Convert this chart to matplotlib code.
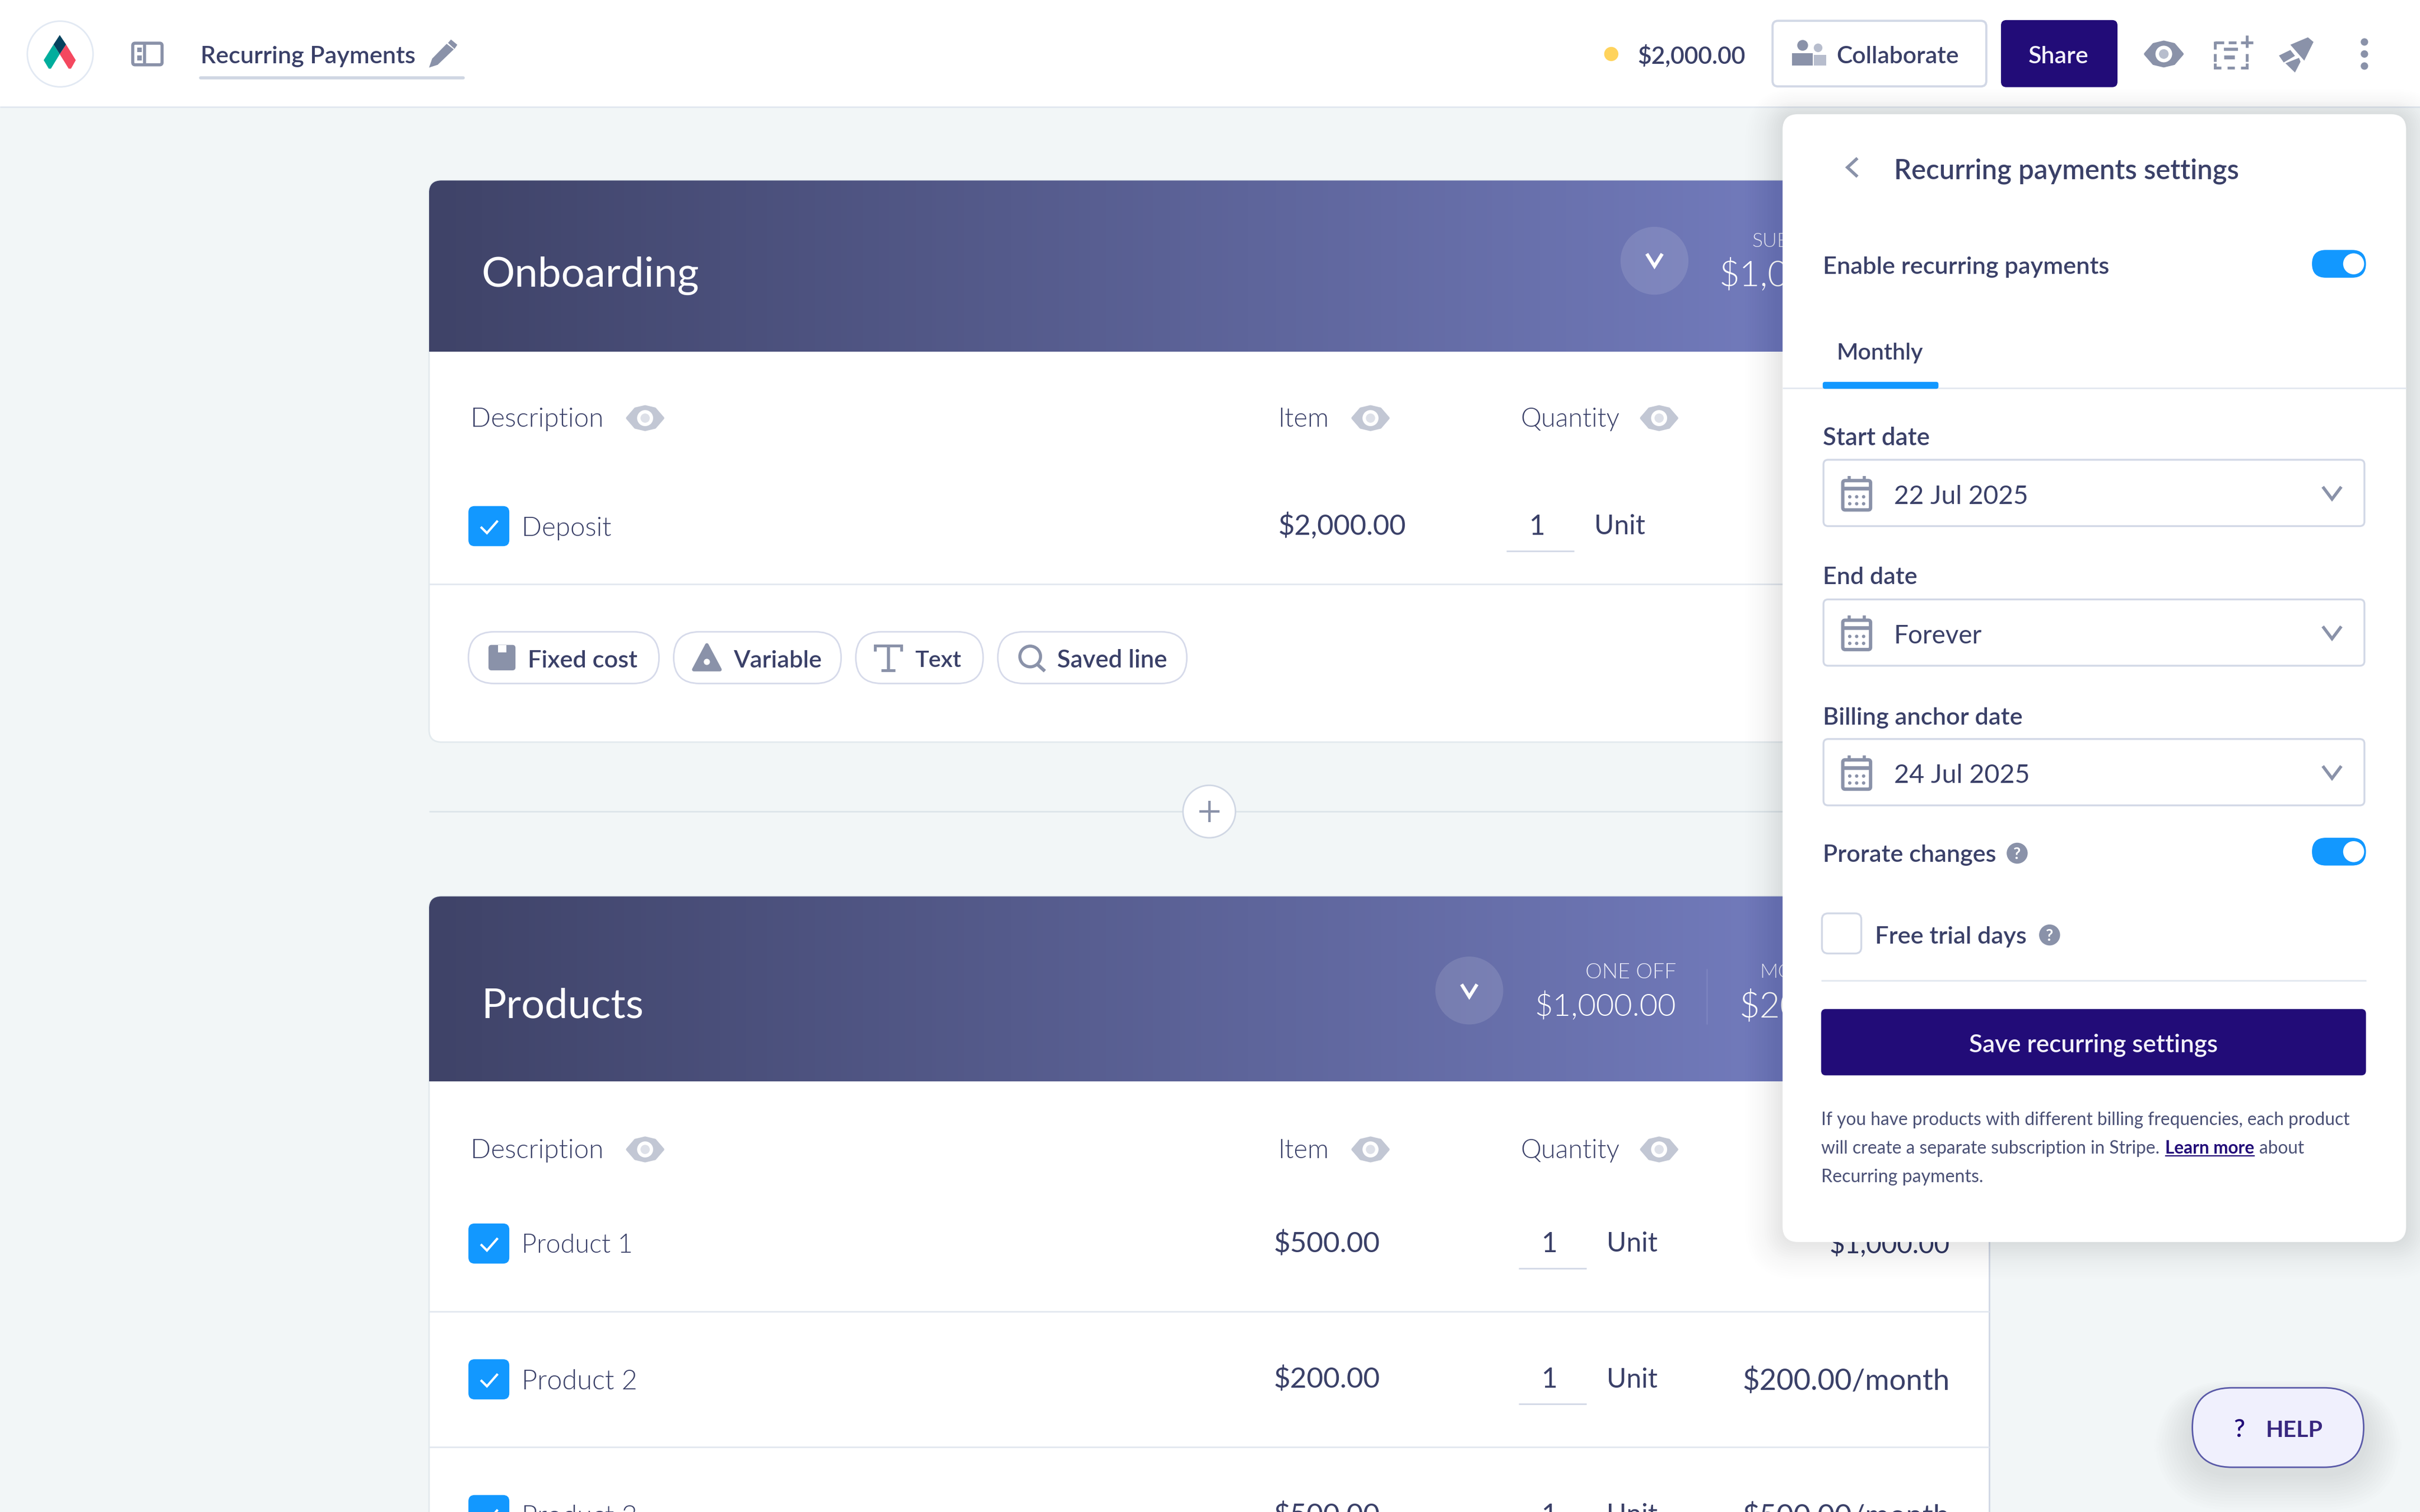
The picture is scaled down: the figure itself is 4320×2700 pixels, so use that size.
import numpy as np
import matplotlib
matplotlib.use("Agg")
import matplotlib.pyplot as plt
from matplotlib.patches import FancyBboxPatch, Circle, Polygon, Rectangle
from matplotlib.colors import LinearSegmentedColormap

# ---------- content ----------
DOC_TITLE = "Recurring Payments"
TOTAL = "$2,000.00"
COLLAB = "Collaborate"
SHARE = "Share"
PANEL_TITLE = "Recurring payments settings"
ENABLE = "Enable recurring payments"
TAB = "Monthly"
DATE_LABELS = ["Start date", "End date", "Billing anchor date"]
DATE_VALUES = ["22 Jul 2025", "Forever", "24 Jul 2025"]
PRORATE = "Prorate changes"
TRIAL = "Free trial days"
SAVE = "Save recurring settings"
NOTE_LINES = ["If you have products with different billing frequencies, each product",
              "will create a separate subscription in Stripe.", "about", "Recurring payments."]
LEARN = "Learn more"
COLUMNS = ["Description", "Item", "Quantity"]
SECTIONS = ["Onboarding", "Products"]
CHIPS = ["Fixed cost", "Variable", "Text", "Saved line"]
PRODUCTS = ["Product 1", "Product 2", "Product 3"]
PRODUCT_PRICES = ["$500.00", "$200.00", "$500.00"]
PRODUCT_TOTALS = ["$1,000.00", "$200.00/month", "$500.00/month"]

DARK = "#3A4068"; GREY = "#8A92A9"; LINE = "#E2E8F0"; BORDER = "#D2D8E6"
BLUE = "#1298FF"; NAVY = "#220C78"; BG = "#F2F6F7"
FONT = "Lato"
LIGHT = 300
MED = 600

fig = plt.figure(figsize=(14.4, 9), dpi=300)
ax = fig.add_axes([0, 0, 1, 1])
ax.set_xlim(0, 1568); ax.set_ylim(980, 0); ax.axis("off")
fig.patch.set_facecolor(BG)
rend = fig.canvas.get_renderer()
PX = 1568 / (14.4 * 300)   # display unit per real pixel
PT = (4320 / 1568) * 72 / 300  # points per display unit


def T(x, yc, s, w=None, size=15, color=DARK, weight="normal", ha="left", z=5, fam=FONT):
    t = ax.text(x, yc, s, fontsize=size * PT, color=color, weight=weight, ha=ha, va="baseline",
                family=fam, zorder=z)
    if w is not None:
        cur = t.get_window_extent(rend).width * PX
        size = size * w / cur
        t.set_fontsize(size * PT)
    t.set_y(yc + 0.36 * size)
    return t


def RR(x0, y0, x1, y1, r=4, fc="white", ec="none", lw=1.0, z=2, alpha=None):
    p = FancyBboxPatch((x0, y0), x1 - x0, y1 - y0, boxstyle=f"round,pad=0,rounding_size={r}",
                       fc=fc, ec=ec, lw=lw * PT, zorder=z, alpha=alpha, mutation_aspect=1)
    ax.add_patch(p)
    return p


def L(xs, ys, c=LINE, lw=1.0, z=3, cap="butt"):
    ax.plot(xs, ys, color=c, lw=lw * PT, zorder=z, solid_capstyle=cap, solid_joinstyle="miter")


def chevron(cx, cy, w=5.5, h=4, c=GREY, lw=1.8, z=6):
    L([cx - w, cx, cx + w], [cy - h, cy + h, cy - h], c=c, lw=lw, z=z)


def eye(cx, cy, c="#C2C7D4", inner="#DDE0E8", z=5, scale=1.0):
    a = 11.5 * scale; b = 7.5 * scale
    xs = np.array([-a, -a * .55, 0, a * .55, a, a * .55, 0, -a * .55])
    ys = np.array([0, -b * .8, -b, -b * .8, 0, b * .8, b, b * .8])
    ax.add_patch(Polygon(np.c_[cx + xs, cy + ys], fc=c, ec=c, lw=1.2, joinstyle="round", zorder=z))
    ax.add_patch(Circle((cx, cy), 5.2 * scale, fc="white", ec="none", zorder=z + .1))
    ax.add_patch(Circle((cx, cy), 3.0 * scale, fc=inner, ec="none", zorder=z + .2))


def checkbox(x, y):
    RR(x, y, x + 26.5, y + 26, r=4, fc=BLUE, z=4)
    L([x + 8, x + 12, x + 19], [y + 13.5, y + 17.5, y + 9.5], c="white", lw=1.5, z=5)


def calendar(cx, cy, z=6):
    RR(cx - 9, cy - 9, cx + 9, cy + 10, r=1.5, fc="white", ec=GREY, lw=2.2, z=z)
    L([cx - 9, cx + 9], [cy - 4, cy - 4], c=GREY, lw=2.4, z=z)
    L([cx - 5, cx - 5], [cy - 12, cy - 8], c=GREY, lw=2, z=z)
    L([cx + 5, cx + 5], [cy - 12, cy - 8], c=GREY, lw=2, z=z)
    for dx in (-4.5, 0, 4.5):
        for dy in (1.5, 6):
            ax.add_patch(Circle((cx + dx, cy + dy), 1.1, fc=GREY, ec="none", zorder=z + .1))


def toggle(y0):
    RR(1498, y0, 1533, y0 + 18, r=9, fc=BLUE, z=21)
    ax.add_patch(Circle((1525, y0 + 9), 6.8, fc="white", ec="none", zorder=22))


def qmark(cx, cy):
    ax.add_patch(Circle((cx, cy), 6.8, fc=GREY, ec="none", zorder=21))
    T(cx, cy, "?", size=10.5, color="white", ha="center", z=22, weight="bold")


# ---------- top bar ----------
ax.add_patch(Rectangle((0, 0), 1568, 69, fc="white", ec="none", zorder=1))
L([0, 1568], [69.3, 69.3], c=LINE, lw=1, z=1.5)
ax.add_patch(Circle((39, 35), 21.3, fc="white", ec="#E2E9F3", lw=1.0 * PT, zorder=2))
ax.add_patch(Polygon([(34.7, 28.8), (38.7, 35.1), (33.0, 44.5), (31.6, 44.5), (28.3, 39.0)], fc="#00AE9D", ec="none", zorder=3))
ax.add_patch(Polygon([(42.8, 28.8), (49.1, 39.0), (46.0, 44.5), (44.5, 44.5), (38.7, 35.1)], fc="#F4485F", ec="none", zorder=3))
ax.add_patch(Polygon([(38.7, 22.7), (42.8, 28.8), (38.7, 35.1), (34.7, 28.8)], fc="#04425E", ec="none", zorder=3))

RR(86, 28, 105, 42, r=1.5, fc="white", ec=GREY, lw=2, z=3)
L([93.8, 93.8], [28, 42], c=GREY, lw=2, z=3)
for yy in (32.2, 37.6):
    ax.add_patch(Rectangle((88.9, yy - 1.5), 2.9, 3, fc=GREY, ec="none", zorder=3))

T(130, 35.5, DOC_TITLE, w=139, weight=MED)
ax.add_patch(Polygon([(278, 43.8), (280, 38), (289.4, 28.4), (294, 32), (283.6, 42)], fc=GREY, ec="none", zorder=3))
ax.add_patch(Polygon([(292.2, 25.6), (296.3, 29), (294.5, 31.7), (290.3, 27.8)], fc=GREY, ec="none", zorder=3))
L([130, 300], [50.5, 50.5], c="#CFD6E3", lw=2, cap="round")

ax.add_patch(Circle((1044, 35), 4.6, fc="#FFD35C", ec="none", zorder=3))
T(1061, 35.5, TOTAL, w=70, weight=MED)
RR(1148.5, 13.5, 1287, 56, r=3.5, fc="white", ec=BORDER, lw=1.4)
# people icon
ax.add_patch(Circle((1168, 29.4), 3.5, fc=GREY, ec="none", zorder=3))
ax.add_patch(Rectangle((1161, 34.5), 13.6, 8, fc=GREY, ec="none", zorder=3))
ax.add_patch(Circle((1178, 31), 2.8, fc="#B7BDCD", ec="none", zorder=3))
ax.add_patch(Rectangle((1175.3, 35.5), 8, 7, fc="#B7BDCD", ec="none", zorder=3))
T(1190, 35.5, COLLAB, w=79, weight=MED)
RR(1296.5, 13, 1372, 56.5, r=3.5, fc=NAVY)
T(1333.7, 35.5, SHARE, w=39, color="#F3F1FA", ha="center", weight=MED)
eye(1402, 35, c=GREY, inner="#B7BDCD", scale=1.04)
# list icon
L([1435, 1441], [27.5, 27.5], c=GREY, lw=1.8, z=3)
L([1444, 1449], [27.5, 27.5], c=GREY, lw=1.8, z=3)
L([1435, 1435], [27, 32], c=GREY, lw=1.8, z=3)
L([1435, 1435], [35, 40], c=GREY, lw=1.8, z=3)
L([1435, 1435, 1439], [41, 44, 44], c=GREY, lw=1.8, z=3)
L([1443, 1448], [44, 44], c=GREY, lw=1.8, z=3)
L([1452, 1456, 1456], [44, 44, 41], c=GREY, lw=1.8, z=3)
L([1456, 1456], [35, 40], c=GREY, lw=1.8, z=3)
L([1456, 1456], [23, 31], c=GREY, lw=1.8, z=3)
L([1452, 1460], [27.5, 27.5], c=GREY, lw=1.8, z=3)
L([1441, 1450], [32, 32], c=GREY, lw=2, z=3)
L([1441, 1448], [37, 37], c=GREY, lw=2.5, z=3)
# rocket icon
ax.add_patch(Polygon([(1495.4, 24.2), (1499, 27.2), (1493, 39.3), (1484, 29)], fc=GREY, ec="none", zorder=3))
ax.add_patch(Polygon([(1476.6, 36), (1484, 32.4), (1487, 36.2), (1479.7, 40.5)], fc=GREY, ec="none", zorder=3))
ax.add_patch(Polygon([(1480.8, 41), (1489.6, 37.5), (1490.6, 40), (1487, 47)], fc=GREY, ec="none", zorder=3))
for yy in (27.2, 35, 42.8):
    ax.add_patch(Circle((1532, yy), 2.4, fc=GREY, ec="none", zorder=3))

# ---------- section cards ----------
cmap = LinearSegmentedColormap.from_list("hdr", ["#3F4368", "#727BBC"])
ramp = np.linspace(0, 1, 512)[None, :]


def card(y0, y1, hdr_bottom):
    RR(278, y0, 1289, y1, r=8, fc="white", ec="#E3EAEE", lw=1, z=2)
    hdr = RR(278, y0, 1289, hdr_bottom + 10, r=8, fc="none", z=2.1)
    im = ax.imshow(ramp, cmap=cmap, extent=(278, 1155, hdr_bottom, y0), aspect="auto", zorder=2.2)
    im.set_clip_path(hdr)
    ax.add_patch(Rectangle((1155, y0), 134, hdr_bottom - y0, fc="#727BBC", ec="none", zorder=2.2))


card(117, 481, 228)
card(581, 1020, 701)
ax.set_xlim(0, 1568); ax.set_ylim(980, 0)
L([1289, 1289], [800, 980], c=BORDER, lw=1, z=2.4)


def col_headers(y):
    for label, x, w, ex in zip(COLUMNS, (305, 828, 985), (86, 33, 64), (418, 888, 1075)):
        T(x, y - .5, label, w=w, size=18, weight=LIGHT)
        eye(ex, y)


# section 1
T(312, 176, SECTIONS[0], w=141, size=28, color="white")
ax.add_patch(Circle((1072, 169), 22, fc="white", alpha=.12, ec="none", zorder=3))
chevron(1072, 168.5, c="white", w=5, h=4, lw=2.2)
T(1135, 155.5, "SUB", size=13, color="#E8E9F6", weight=LIGHT)
T(1114, 177, "$1,00", size=23, color="white", weight=LIGHT)
col_headers(271)
checkbox(303.5, 328)
T(338, 341, "Deposit", w=58, size=18, weight=LIGHT)
T(828, 340, "$2,000.00", w=83, size=18)
T(996, 340, "1", size=18, ha="center")
L([976, 1020], [357, 357], c=BORDER, lw=1)
T(1033, 340, "Unit", w=33, size=18)
L([278, 1289], [378.5, 378.5], c=LINE, lw=1)

chip_x = [(303.5, 427), (436.5, 545), (554.5, 637), (646.5, 769)]
chip_txt = [(342, 71), (475, 57), (593, 30), (685, 71)]
for (a, b), (tx, tw), s in zip(chip_x, chip_txt, CHIPS):
    RR(a, 409.5, b, 443, r=16.7, fc="white", ec="#D6DAEA", lw=1)
    T(tx, 427, s, w=tw, weight=MED)
# chip icons
RR(316.5, 418, 334, 434.5, r=2, fc=GREY, z=4)
ax.add_patch(Rectangle((322.5, 418), 5.5, 5, fc="white", ec="none", zorder=4.1))
ax.add_patch(Polygon([(458, 418), (466.5, 434), (449.5, 434)], fc=GREY, ec=GREY, lw=1.5, joinstyle="round", zorder=4))
ax.add_patch(Circle((458, 429), 2, fc="white", ec="none", zorder=4.1))
L([567, 567, 584, 584], [422, 418.5, 418.5, 422], c=GREY, lw=1.8, z=4)
L([575.5, 575.5], [418.5, 434.5], c=GREY, lw=2, z=4)
L([571, 580], [434.5, 434.5], c=GREY, lw=1.8, z=4)
ax.add_patch(Circle((667.5, 425.5), 6.7, fc="none", ec=GREY, lw=2 * PT, zorder=4))
L([672, 677], [430.5, 435], c=GREY, lw=2.2, z=4)

L([278, 1289], [526, 526], c="#DDE5EA", lw=1, z=1.2)
ax.add_patch(Circle((783.5, 526), 17, fc="white", ec="#D0D7E4", lw=1 * PT, zorder=3))
L([777, 790], [526, 526], c=GREY, lw=1.6, z=4)
L([783.5, 783.5], [519, 533], c=GREY, lw=1.6, z=4)

# section 2
T(312, 650, SECTIONS[1], w=105, size=28, color="white")
ax.add_patch(Circle((952, 642), 22, fc="white", alpha=.12, ec="none", zorder=3))
chevron(952, 642, c="white", w=5, h=4, lw=2.2)
T(1086, 629, "ONE OFF", w=59, size=13, color="#E8E9F6", ha="right", weight=LIGHT)
T(1086, 651, "$1,000.00", w=92, size=21, color="white", ha="right", weight=LIGHT)
L([1106, 1106], [628, 664], c="#7C83BE", lw=1, z=3)
T(1140, 629, "MONTHLY", size=13, color="#E8E9F6", weight=LIGHT)
T(1127, 651, "$200.00", size=23, color="white", weight=LIGHT)
col_headers(745)
for i, (name, price, total, yc) in enumerate(zip(PRODUCTS, PRODUCT_PRICES, PRODUCT_TOTALS, (806, 894, 982))):
    checkbox(303.5, yc - 13)
    T(338, yc, name, w=72 if i == 0 else 75, size=18, weight=LIGHT)
    T(825, yc - 1, price, w=69, size=18)
    T(1004, yc - 1, "1", size=18, ha="center")
    L([984, 1028], [yc + 16, yc + 16], c=BORDER, lw=1)
    T(1041, yc - 1, "Unit", w=33, size=18)
    T(1263.5, yc, total, w=(78 if i == 0 else 134), size=18.5, ha="right", z=5)
    if i < 2:
        L([278, 1289], [yc + 44, yc + 44], c=LINE, lw=1)

# ---------- settings panel ----------
for i in range(16):
    g = 1.5 * (16 - i)
    RR(1155 - g, 74 - g * .7, 1559 + g, 805 + g, r=10 + g, fc="#1C2A3A", alpha=.003 + i * .0004, z=15)
RR(1155, 74, 1559, 805, r=10, fc="white", z=20)

chevron_pts = [(1203.5, 102.5), (1197, 108.5), (1203.5, 114.5)]
L([p[0] for p in chevron_pts], [p[1] for p in chevron_pts], c=GREY, lw=2.0, z=21)
T(1227, 109.5, PANEL_TITLE, w=223, weight=MED, z=21)
T(1181, 172, ENABLE, w=185, weight=MED, z=21)
toggle(162)
T(1190, 227.5, TAB, w=56, weight=MED, z=21)
L([1155, 1559], [251.5, 251.5], c=LINE, lw=1, z=21)
RR(1181, 247.5, 1256, 252, r=1.5, fc=BLUE, z=22)

boxes = [(298, 283), (388.5, 373), (479, 464)]
label_w = (69, 61, 129)
value_w = (87, 57, 88)
for (top, ly), lab, val, lw_, vw in zip(boxes, DATE_LABELS, DATE_VALUES, label_w, value_w):
    T(1181, ly, lab, w=lw_, weight=MED, z=21)
    RR(1181.5, top, 1532, top + 43, r=3, fc="white", ec=BORDER, lw=1.2, z=21)
    calendar(1203, top + 22.5, z=22)
    T(1227, top + 22.5, val, w=vw, size=17, z=22)
    chevron(1511, top + 21.5, z=22, w=6, h=4, lw=2.0)

T(1181, 553, PRORATE, w=112, weight=MED, z=21)
qmark(1307, 553)
toggle(543)
RR(1180.5, 592, 1206, 618, r=4, fc="white", ec=BORDER, lw=1.2, z=21)
T(1215, 606, TRIAL, w=98, weight=MED, z=21)
qmark(1328, 606)
L([1180, 1533], [635.5, 635.5], c=LINE, lw=1, z=21)
RR(1180, 654, 1533, 697, r=3, fc=NAVY, z=21)
T(1356.5, 676, SAVE, w=161, color="#F3F1FA", ha="center", weight=MED, z=22)

NOTE = "#4A5075"
T(1180, 725, NOTE_LINES[0], w=341, size=11, color=NOTE, z=21)
T(1180, 743.5, NOTE_LINES[1], w=219, size=11, color=NOTE, z=21)
T(1403, 743.5, LEARN, w=58, size=11, color=NAVY, weight="bold", z=21)
L([1403, 1461], [749, 749], c=NAVY, lw=.8, z=21)
T(1464, 743.5, NOTE_LINES[2], w=29, size=11, color=NOTE, z=21)
T(1180, 762, NOTE_LINES[3], w=105, size=11, color=NOTE, z=21)

# ---------- help button ----------
for i in range(12):
    g = 2.0 * (12 - i)
    RR(1420 - g, 899 - g * .5 + 8, 1532 + g, 951 + g + 4, r=26 + g, fc="#1C2A3A", alpha=.006, z=23)
RR(1420.5, 899.5, 1531.5, 951, r=25.7, fc="#F0F0FD", ec="#5A5AA8", lw=1, z=24)
T(1451, 925.5, "?", size=16, color=NAVY, ha="center", z=25, weight=MED)
T(1468, 926, "HELP", w=37, size=13, color="#38277F", weight="bold", z=25)

fig.savefig("out.png", dpi=300, facecolor=BG)
